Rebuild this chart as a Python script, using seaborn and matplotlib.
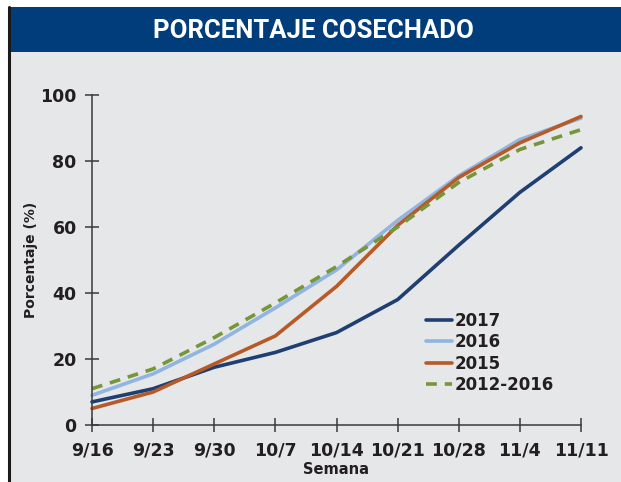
import matplotlib
matplotlib.use("Agg")
import matplotlib.pyplot as plt
from matplotlib.patches import Rectangle
from matplotlib.lines import Line2D
import numpy as np
import pandas as pd
import seaborn as sns

# Weekly harvest progress (% harvested)
weeks = ["9/16", "9/23", "9/30", "10/7", "10/14", "10/21", "10/28", "11/4", "11/11"]
y2017 = [7, 11, 17.5, 22, 28, 38, 54.5, 70.5, 84]
y2016 = [9, 15.5, 24.5, 35.5, 47, 62, 75.5, 86.5, 93]
y2015 = [5, 10, 18.5, 27, 42, 60.5, 75, 85.5, 93.5]
y_avg = [11, 17, 26.5, 37, 48, 60, 73.5, 83.5, 89.5]

series_names = ["2017", "2016", "2015", "2012-2016"]
colors = {"2017": "#1f3f73", "2016": "#8fb5e0", "2015": "#b65a28", "2012-2016": "#76963a"}
dashes = {"2017": "", "2016": "", "2015": "", "2012-2016": (3, 2.2)}

frames = []
for name, vals in zip(series_names, [y2017, y2016, y2015, y_avg]):
    frames.append(pd.DataFrame({"semana": np.arange(len(weeks)), "pct": vals, "serie": name}))
df = pd.concat(frames, ignore_index=True)

sns.set_theme(style="white")
plt.rcParams["font.family"] = ["DejaVu Sans"]

W, H = 621, 482
fig = plt.figure(figsize=(W / 100, H / 100), dpi=100, facecolor="white")

# panel background, title band and left frame line
fig.patches.append(Rectangle((9 / W, 0), 1, (H - 52) / H, transform=fig.transFigure,
                             facecolor="#e6e7e8", edgecolor="none", zorder=-5))
fig.patches.append(Rectangle((8 / W, (H - 52) / H), 1, 45 / H, transform=fig.transFigure,
                             facecolor="#003d7a", edgecolor="none", zorder=-5))
fig.add_artist(Line2D([8.5 / W, 8.5 / W], [0, (H - 7) / H], transform=fig.transFigure,
                      color="#1a1a1a", lw=2.2, zorder=-4))
fig.text(313 / W, (H - 31) / H, "PORCENTAJE COSECHADO", color="white",
         ha="center", va="center", fontsize=18.5, fontweight="bold",
         family=["Roboto", "DejaVu Sans"])

ax = fig.add_axes([92 / W, (H - 425) / H, (581 - 92) / W, (425 - 95) / H])
ax.set_facecolor("none")

sns.lineplot(data=df, x="semana", y="pct", hue="serie", style="serie",
             hue_order=series_names, style_order=series_names,
             palette=colors, dashes=dashes, linewidth=2.6, sort=False,
             legend=False, ax=ax, clip_on=False)

ax.set_xlim(0, len(weeks) - 1)
ax.set_ylim(0, 100)
ax.set_xticks(np.arange(len(weeks)))
ax.set_xticklabels(weeks)
ax.set_yticks([0, 20, 40, 60, 80, 100])

for side in ["top", "right"]:
    ax.spines[side].set_visible(False)
for side in ["left", "bottom"]:
    ax.spines[side].set_color("#3a3a3a")
    ax.spines[side].set_linewidth(1.1)

ax.tick_params(axis="both", bottom=True, left=True, direction="inout", length=10,
               width=1.1, color="#3a3a3a", labelsize=12.5, labelcolor="#231f20")
ax.tick_params(axis="x", pad=7)
ax.tick_params(axis="y", pad=6)
for lab in ax.get_xticklabels() + ax.get_yticklabels():
    lab.set_fontweight("bold")

ax.set_xlabel("Semana", fontsize=10.5, fontweight="bold", color="#231f20", labelpad=2)
ax.set_ylabel("Porcentaje (%)", fontsize=10, fontweight="bold", color="#231f20", labelpad=2)

handles = [Line2D([0], [0], color=colors[n], lw=2.6,
                  linestyle=(0, dashes[n]) if dashes[n] else "-") for n in series_names]
leg = ax.legend(handles, series_names, loc="upper left", bbox_to_anchor=(0.652, 0.388),
                frameon=False, handlelength=1.6, handletextpad=0.1, labelspacing=0.2,
                prop={"weight": "bold", "size": 12})
for t in leg.get_texts():
    t.set_color("#231f20")

fig.savefig("out.png", dpi=100, facecolor="white")
